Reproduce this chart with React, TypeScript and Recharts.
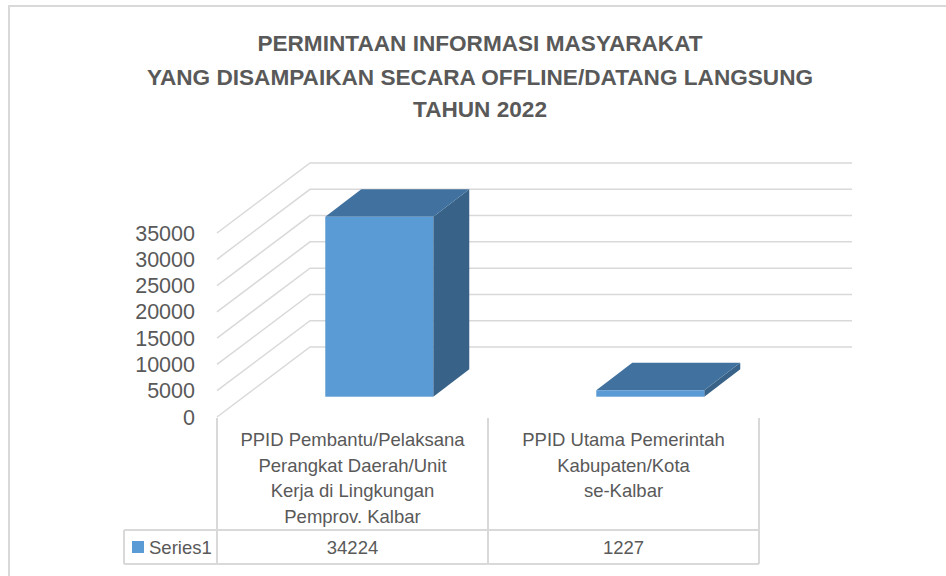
import React from 'react';
import { BarChart, Bar, XAxis, YAxis, CartesianGrid, Customized } from 'recharts';

// ---------- data ----------
const titleLines = [
  'PERMINTAAN INFORMASI MASYARAKAT',
  'YANG DISAMPAIKAN SECARA OFFLINE/DATANG LANGSUNG',
  'TAHUN 2022',
];
const categoryLines = [
  ['PPID Pembantu/Pelaksana', 'Perangkat Daerah/Unit', 'Kerja di Lingkungan', 'Pemprov. Kalbar'],
  ['PPID Utama Pemerintah', 'Kabupaten/Kota', 'se-Kalbar'],
];
const categories = categoryLines.map((l) => l.join(' '));
const seriesName = 'Series1';
const series1Values = [34224, 1227];
const yTicks = [0, 5000, 10000, 15000, 20000, 25000, 30000, 35000];

const data = categories.map((c, i) => ({ category: c, value: series1Values[i] }));

// ---------- layout / style ----------
const W = 946;
const H = 576;
const PLOT_LEFT = 217;
const PLOT_RIGHT = 759;
const PLOT_TOP = 233;
const PLOT_BOTTOM = 417;
const WALL_DX = 93;
const WALL_DY = -70;
const BAR_DEPTH_FRAC = 0.29;
const BAR_DX = 36;
const BAR_DY = -27.5;
const TABLE_TOP = 418;
const ROW_SPLIT = 530;
const TABLE_BOTTOM = 564;
const LEGEND_LEFT = 124;
const FONT = '"Liberation Sans", Arial, sans-serif';
const TEXT = '#595959';
const LINE = '#d9d9d9';
const FRONT = '#5b9bd5';
const TOP = '#41729f';
const SIDE = '#386287';

const Bar3D = (props: any) => {
  const { x, y, width, height } = props;
  if (x == null || y == null) return null;
  const fx = x + WALL_DX * BAR_DEPTH_FRAC;
  const fy = y + WALL_DY * BAR_DEPTH_FRAC;
  const w = width;
  const h = Math.max(height, 0);
  const top = `${fx},${fy} ${fx + BAR_DX},${fy + BAR_DY} ${fx + w + BAR_DX},${fy + BAR_DY} ${fx + w},${fy}`;
  const side = `${fx + w},${fy} ${fx + w + BAR_DX},${fy + BAR_DY} ${fx + w + BAR_DX},${fy + h + BAR_DY} ${fx + w},${fy + h}`;
  return (
    <g>
      <polygon points={side} fill={SIDE} />
      <polygon points={top} fill={TOP} />
      <rect x={fx} y={fy} width={w} height={h} fill={FRONT} />
    </g>
  );
};

const GridLine = (props: any) => {
  const { x1, y1, x2, y2 } = props;
  return (
    <path
      key={props.key}
      d={`M${x1},${y1} L${x1 + WALL_DX},${y1 + WALL_DY} L${x2 + WALL_DX},${y2 + WALL_DY}`}
      fill="none"
      stroke={LINE}
      strokeWidth={1.5}
    />
  );
};

const TableTick = (props: any) => {
  const { x, payload } = props;
  const i = payload?.index ?? props.index ?? 0;
  const bw = (PLOT_RIGHT - PLOT_LEFT) / categories.length;
  const left = x - bw / 2;
  const right = x + bw / 2;
  const lines = categoryLines[i] || [];
  return (
    <g>
      <line x1={left} y1={TABLE_TOP} x2={left} y2={TABLE_BOTTOM} stroke={LINE} strokeWidth={2} />
      <line x1={right} y1={TABLE_TOP} x2={right} y2={TABLE_BOTTOM} stroke={LINE} strokeWidth={2} />
      <line x1={left} y1={ROW_SPLIT} x2={right} y2={ROW_SPLIT} stroke={LINE} strokeWidth={2} />
      <line x1={left} y1={TABLE_BOTTOM} x2={right} y2={TABLE_BOTTOM} stroke={LINE} strokeWidth={2} />
      {lines.map((t, k) => (
        <text key={k} x={x} y={446 + k * 25.5} textAnchor="middle" fill={TEXT} fontFamily={FONT} fontSize={18.5}>
          {t}
        </text>
      ))}
      <text x={x} y={554} textAnchor="middle" fill={TEXT} fontFamily={FONT} fontSize={18.5}>
        {series1Values[i]}
      </text>
      {i === 0 && (
        <g>
          <line x1={LEGEND_LEFT} y1={ROW_SPLIT} x2={left} y2={ROW_SPLIT} stroke={LINE} strokeWidth={2} />
          <line x1={LEGEND_LEFT} y1={TABLE_BOTTOM} x2={left} y2={TABLE_BOTTOM} stroke={LINE} strokeWidth={2} />
          <line x1={LEGEND_LEFT} y1={ROW_SPLIT} x2={LEGEND_LEFT} y2={TABLE_BOTTOM} stroke={LINE} strokeWidth={2} />
          <rect x={132} y={541} width={12} height={12} fill={FRONT} />
          <text x={149} y={554} fill={TEXT} fontFamily={FONT} fontSize={18.5}>
            {seriesName}
          </text>
        </g>
      )}
    </g>
  );
};

const Frame = () => (
  <g>
    <path d={`M9,${H} L9,6 L${W},6`} fill="none" stroke={LINE} strokeWidth={2} />
    {titleLines.map((t, k) => (
      <text
        key={k}
        x={480}
        y={[51, 84.5, 117][k]}
        textAnchor="middle"
        fill={TEXT}
        fontFamily={FONT}
        fontWeight="bold"
        fontSize={22.6}
      >
        {t}
      </text>
    ))}
  </g>
);

export default function App() {
  return (
    <div style={{ position: 'absolute', left: 0, top: 0, width: W, height: H, background: '#fff' }}>
      <BarChart
        width={W}
        height={H}
        data={data}
        margin={{ top: PLOT_TOP, right: W - PLOT_RIGHT, bottom: 0, left: 0 }}
        barCategoryGap="30%"
      >
        <Customized component={Frame} />
        <CartesianGrid vertical={false} horizontal={GridLine as any} />
        <XAxis
          dataKey="category"
          height={H - PLOT_BOTTOM}
          axisLine={false}
          tickLine={false}
          tickSize={0}
          tickMargin={0}
          interval={0}
          tick={<TableTick />}
        />
        <YAxis
          width={PLOT_LEFT}
          domain={[0, 35000]}
          ticks={yTicks}
          interval={0}
          axisLine={false}
          tickLine={false}
          tickSize={0}
          tickMargin={22}
          tick={{ fill: TEXT, fontFamily: FONT, fontSize: 21.5 }}
        />
        <Bar dataKey="value" name={seriesName} shape={<Bar3D />} isAnimationActive={false} />
      </BarChart>
    </div>
  );
}
